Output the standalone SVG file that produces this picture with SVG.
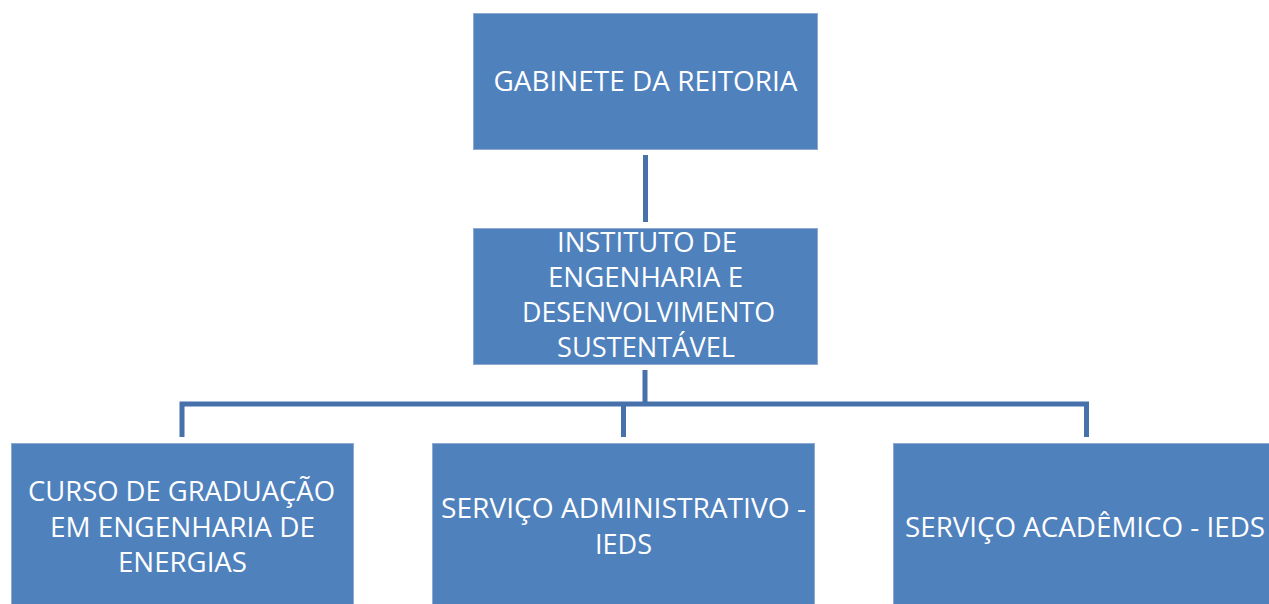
<svg xmlns="http://www.w3.org/2000/svg" width="1269" height="604" viewBox="0 0 1269 604">
<style>
.box{fill:#4F81BD;stroke:#8FA9D2;stroke-width:1}
.t{font-family:"Open Sans","Liberation Sans",Arial,sans-serif;font-size:28px;fill:#FFFFFF;text-anchor:middle}
.c{stroke:#4771AB;stroke-width:5;fill:none;stroke-linecap:butt}
</style>
<rect width="1269" height="604" fill="#FFFFFF"/>
<g id="connectors">
<line class="c" x1="645.5" y1="155" x2="645.5" y2="222"/>
<line class="c" x1="645" y1="370" x2="645" y2="406"/>
<polyline class="c" points="182,437 182,404 1086.5,404 1086.5,437"/>
<line class="c" x1="623.5" y1="404" x2="623.5" y2="437"/>
</g>
<g id="node-gabinete">
<rect class="box" x="473.5" y="13.5" width="344" height="136"/>
<text class="t" x="645.5" y="91" textLength="304" lengthAdjust="spacingAndGlyphs">GABINETE DA REITORIA</text>
</g>
<g id="node-instituto">
<rect class="box" x="473.5" y="228.5" width="344" height="136"/>
<text class="t" x="647" y="252" textLength="180" lengthAdjust="spacingAndGlyphs">INSTITUTO DE</text>
<text class="t" x="645.5" y="287" textLength="195" lengthAdjust="spacingAndGlyphs">ENGENHARIA E</text>
<text class="t" x="648.5" y="322" textLength="253" lengthAdjust="spacingAndGlyphs">DESENVOLVIMENTO</text>
<text class="t" x="646" y="357" textLength="178" lengthAdjust="spacingAndGlyphs">SUSTENTÁVEL</text>
</g>
<g id="node-curso">
<rect class="box" x="11.5" y="443.5" width="342" height="170"/>
<text class="t" x="181.5" y="501" textLength="307" lengthAdjust="spacingAndGlyphs">CURSO DE GRADUAÇÃO</text>
<text class="t" x="182.5" y="537" textLength="265" lengthAdjust="spacingAndGlyphs">EM ENGENHARIA DE</text>
<text class="t" x="182.5" y="572" textLength="129" lengthAdjust="spacingAndGlyphs">ENERGIAS</text>
</g>
<g id="node-administrativo">
<rect class="box" x="432.5" y="443.5" width="382" height="170"/>
<text class="t" x="623.5" y="518" textLength="365" lengthAdjust="spacingAndGlyphs">SERVIÇO ADMINISTRATIVO -</text>
<text class="t" x="623.5" y="554" textLength="57" lengthAdjust="spacingAndGlyphs">IEDS</text>
</g>
<g id="node-academico">
<rect class="box" x="893.5" y="443.5" width="390" height="170"/>
<text class="t" x="1085" y="537" textLength="360" lengthAdjust="spacingAndGlyphs">SERVIÇO ACADÊMICO - IEDS</text>
</g>
</svg>
